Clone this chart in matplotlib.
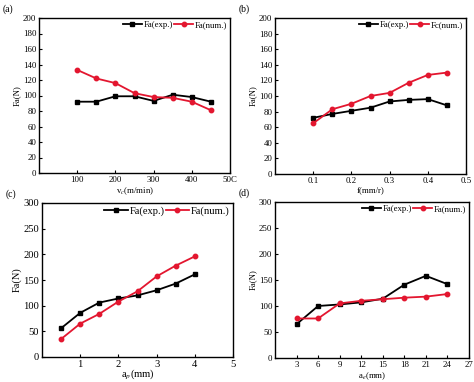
import numpy as np
import matplotlib
matplotlib.use("Agg")
import matplotlib.pyplot as plt

plt.rcParams['font.family'] = ['Liberation Serif', 'DejaVu Serif']
plt.rcParams['mathtext.fontset'] = 'stix'

# (a) cutting speed
vc = [100, 150, 200, 250, 300, 350, 400, 450]
a_exp = [92, 92, 99, 99, 93, 101, 98, 92]
a_num = [133, 122, 116, 103, 98, 97, 92, 81]

# (b) feed
f = [0.1, 0.15, 0.2, 0.25, 0.3, 0.35, 0.4, 0.45]
b_exp = [72, 77, 81, 85, 93, 95, 96, 88]
b_num = [65, 83, 90, 100, 104, 117, 127, 130]

# (c) depth of cut
ap = [0.5, 1, 1.5, 2, 2.5, 3, 3.5, 4]
c_exp = [56, 86, 106, 114, 120, 130, 143, 161]
c_num = [35, 65, 84, 108, 128, 157, 178, 196]

# (d) width of cut
ae = [3, 6, 9, 12, 15, 18, 21, 24]
d_exp = [65, 100, 103, 107, 114, 141, 158, 142]
d_num = [76, 76, 105, 110, 113, 116, 118, 123]

red = '#e3162f'
W, H = 474, 382
fig = plt.figure(figsize=(W / 100, H / 100), dpi=100)

def box(l, t, r, b):
    return [l / W, 1 - b / H, (r - l) / W, (b - t) / H]

panels = [
    (box(39, 18, 230, 173), vc, a_exp, a_num, 'Fa(num.)', 'v$_c$(m/min)',
     (0, 500), np.arange(100, 501, 100), (0, 200), np.arange(0, 201, 20), '(a)', 6.3),
    (box(275, 18, 466, 174), f, b_exp, b_num, 'Fc(num.)', 'f(mm/r)',
     (0, 0.5), np.arange(0.1, 0.51, 0.1), (0, 200), np.arange(0, 201, 20), '(b)', 6.3),
    (box(42, 203, 233, 357), ap, c_exp, c_num, 'Fa(num.)', 'a$_p$(mm)',
     (0, 5), np.arange(1, 6, 1), (0, 300), np.arange(0, 301, 50), '(c)', 7.6),
    (box(275, 202, 469, 358), ae, d_exp, d_num, 'Fa(num.)', 'a$_e$(mm)',
     (0, 27), np.arange(3, 28, 3), (0, 300), np.arange(0, 301, 50), '(d)', 6.3),
]

for rect, x, e, n, nlab, xlab, xl, xt, yl, yt, tag, fs in panels:
    ax = fig.add_axes(rect)
    ax.plot(x, e, color='black', marker='s', markersize=3.2, lw=1.3, label='Fa(exp.)')
    ax.plot(x, n, color=red, marker='o', markersize=3.2, lw=1.3, label=nlab)
    ax.set_xlim(*xl)
    ax.set_ylim(*yl)
    ax.set_xticks(xt)
    ax.set_yticks(yt)
    if tag == '(a)':
        ax.set_xticklabels(['100', '200', '300', '400', '50C'])
    elif tag == '(b)':
        ax.set_xticklabels(['0.1', '0.2', '0.3', '0.4', '0.5'])
    ax.tick_params(direction='in', labelsize=fs, length=2.5, width=0.8, pad=2)
    for s in ax.spines.values():
        s.set_linewidth(1.0)
    ax.set_xlabel(xlab, fontsize=fs, labelpad=(-1 if tag == '(c)' else 1))
    ax.set_ylabel('Fa(N)', fontsize=fs, labelpad=1)
    ax.legend(loc='upper right', ncol=2, frameon=False, fontsize=fs,
              handlelength=2.2, handletextpad=0.2, columnspacing=0.1,
              borderaxespad=0.1, borderpad=0.2)
    fig.text(rect[0] - 36 / W, rect[1] + rect[3] + 4 / H, tag, fontsize=7, va='bottom')

fig.savefig('out.png', dpi=100)
